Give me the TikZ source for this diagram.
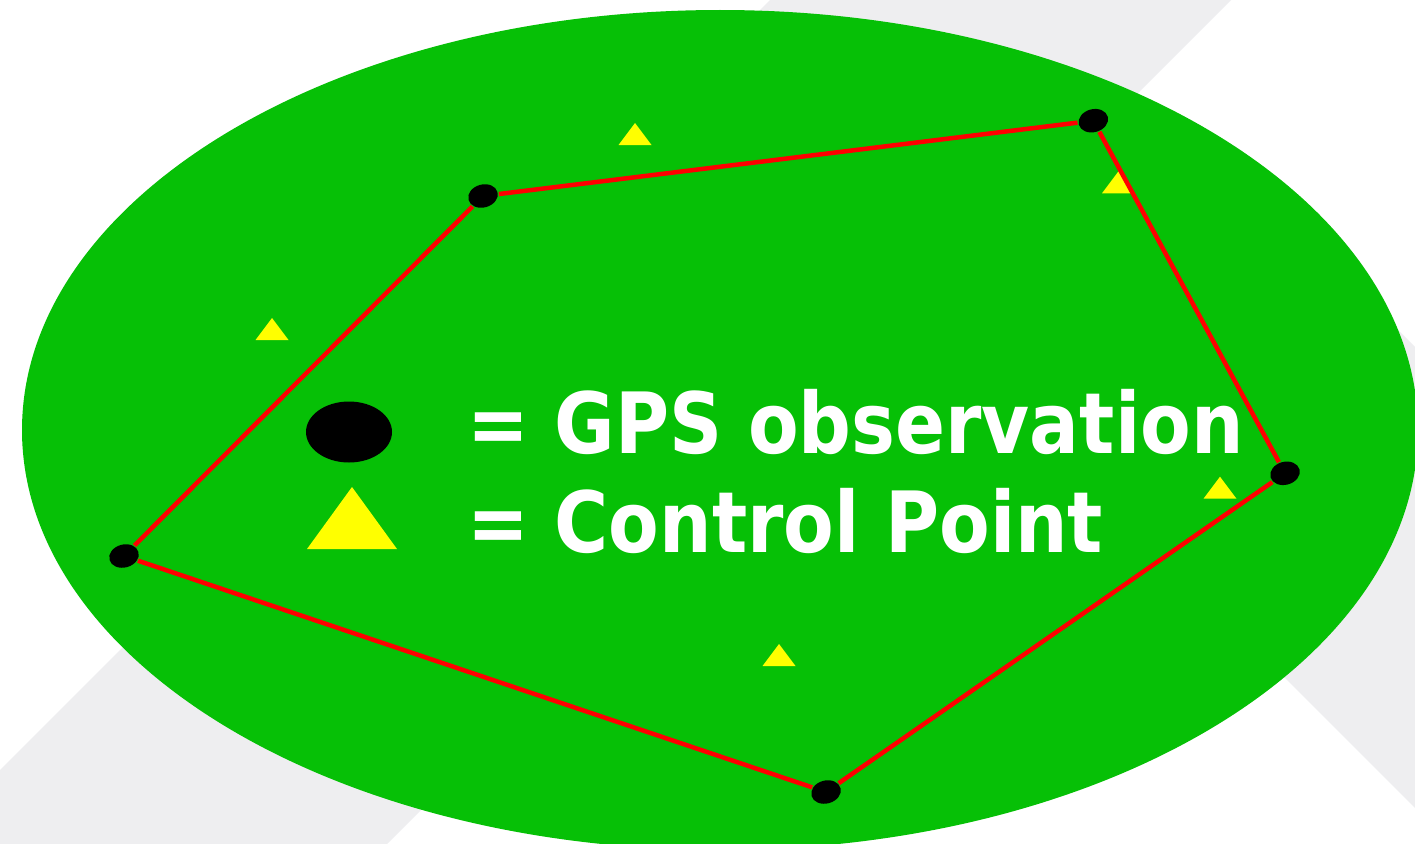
\documentclass[tikz,border=0pt]{standalone}
\usepackage{fontspec}
\usetikzlibrary{shapes.geometric}
\newfontfamily\lgfont{DejaVu Sans}[FakeStretch=0.873]
\definecolor{bandgrey}{RGB}{238,238,240}
\definecolor{field}{RGB}{6,192,6}
\definecolor{cpyellow}{RGB}{255,255,0}
\definecolor{netred}{RGB}{255,0,0}
\pgfdeclarelayer{bg}
\pgfdeclarelayer{lines}
\pgfsetlayers{bg,lines,main}
\begin{document}
\begin{tikzpicture}[x=1pt,y=-1pt,
  dotbase/.style={ellipse, fill=black, inner sep=0pt, outer sep=1pt},
  gps/.style={dotbase, minimum width=30pt, minimum height=23pt, rotate=15},
  legdotstyle/.style={dotbase, minimum width=86pt, minimum height=61pt},
  net/.style={draw=netred, line width=4.5pt},
  legendtext/.style={anchor=base west, inner sep=0pt, text=white,
    font=\lgfont\bfseries\fontsize{84.5pt}{99pt}\selectfont},
  cp/.pic={\fill[cpyellow] (-16.5,0) -- (16.5,0) -- (0,-22) -- cycle;}
]
\useasboundingbox (0,0) rectangle (1415,843);
\clip (0,0) rectangle (1415,843);
\begin{pgfonlayer}{bg}
\fill[white] (0,0) rectangle (1415,843);
% background bands
\fill[bandgrey] (870,-100) -- (1331,-100) -- (-100,1331) -- (-100,870) -- cycle;
\fill[bandgrey] (1250,182) -- (1700,632) -- (1700,1093) -- (1019.5,412.5) -- cycle;
% field
\fill[field] (720,430) ellipse [x radius=698pt, y radius=420pt];
% control points
\pic at (272,340) {cp};
\pic at (635,145) {cp};
\pic at (1118.5,193.3) {cp};
\pic at (1220,498.7) {cp};
\pic at (779,666) {cp};
\end{pgfonlayer}
% GPS observation points
\node[gps] (A) at (483,196) {};
\node[gps] (B) at (1093.3,120.7) {};
\node[gps] (C) at (1285,473.3) {};
\node[gps] (D) at (826,792) {};
\node[gps] (E) at (124,556) {};
\begin{pgfonlayer}{lines}
\draw[net] (A) -- (B);
\draw[net] (B) -- (C);
\draw[net] (C) -- (D);
\draw[net] (D) -- (E);
\draw[net] (E) -- (A);
\end{pgfonlayer}
% legend
\node[legdotstyle] (legdot) at (349,432) {};
\fill[cpyellow] (307,549) -- (397,549) -- (352,487) -- cycle;
\node[legendtext] (gpstext) at (467,453.3) {= GPS observation};
\node[legendtext] (cptext) at (467,552.7) {= Control Point};
\end{tikzpicture}
\end{document}
